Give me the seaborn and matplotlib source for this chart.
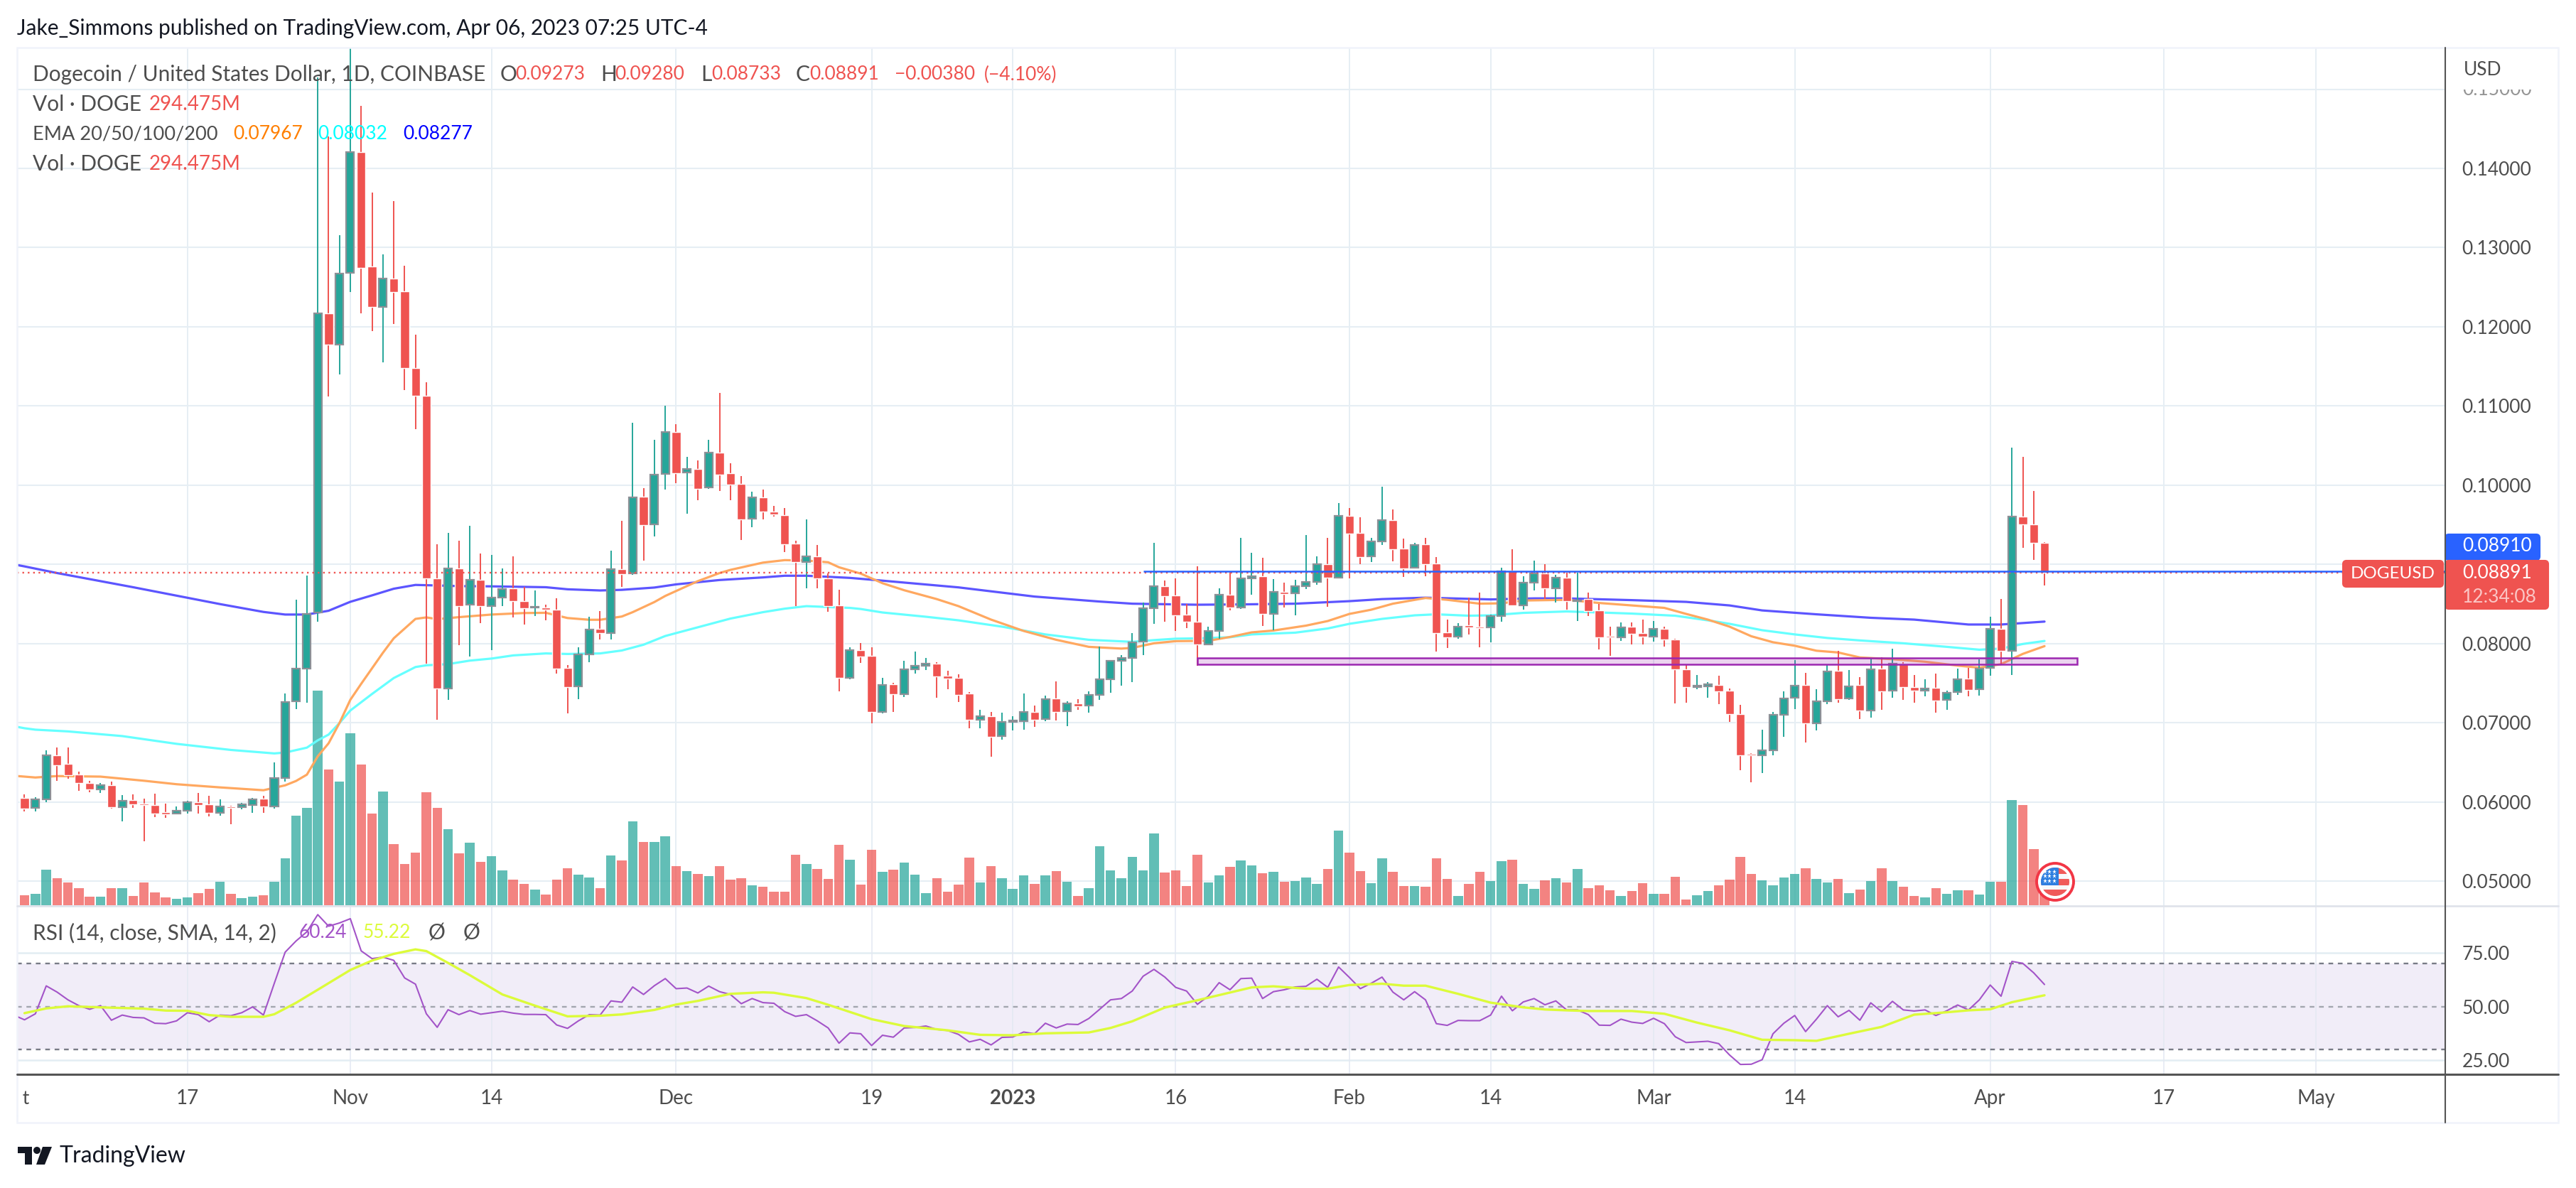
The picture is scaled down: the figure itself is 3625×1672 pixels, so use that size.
import pandas as pd
import seaborn as sns
import matplotlib.pyplot as plt
from matplotlib.patches import Rectangle, Circle, Polygon, FancyBboxPatch
from matplotlib.lines import Line2D

W, H = 3625, 1672

# daily candles from 2022-10-02, open high low close in 1e-5 USD, volume in millions
candles = [
    (6051, 6095, 5883, 5919, 135), (5923, 6059, 5883, 6029, 155), (6029, 6652, 5993, 6586, 494),
    (6586, 6689, 6267, 6465, 375), (6480, 6689, 6289, 6341, 314), (6344, 6381, 6136, 6234, 237),
    (6238, 6264, 6125, 6161, 114), (6161, 6238, 6117, 6209, 114), (6212, 6253, 5919, 5934, 237),
    (5930, 6084, 5755, 6018, 237), (6022, 6095, 5927, 5971, 126), (5975, 6040, 5505, 5960, 314),
    (5960, 6103, 5810, 5857, 175), (5872, 5978, 5802, 5846, 106), (5857, 5941, 5846, 5886, 86),
    (5886, 6011, 5857, 5993, 106), (5997, 6114, 5853, 5960, 163), (5971, 6077, 5820, 5865, 224),
    (5865, 6033, 5828, 5938, 326), (5945, 5952, 5714, 5927, 155), (5934, 5989, 5908, 5967, 94),
    (5963, 6051, 5865, 6029, 114), (6040, 6081, 5861, 5938, 135), (5938, 6498, 5919, 6297, 326),
    (6300, 7370, 6256, 7264, 653), (7268, 8553, 7172, 7681, 1253), (7681, 8861, 7253, 8377, 1363),
    (8396, 15150, 8271, 12173, 3015), (12173, 14402, 11117, 11771, 1905), (11771, 13160, 11395, 12674, 1734),
    (12677, 16000, 12443, 14208, 2415), (14208, 14793, 12173, 12747, 1975), (12758, 13697, 11950, 12253, 1285),
    (12250, 12915, 11548, 12608, 1595), (12612, 13587, 12038, 12443, 853), (12451, 12772, 11201, 11475, 575),
    (11479, 11903, 10711, 11128, 734), (11128, 11303, 7747, 8824, 1583), (8824, 9253, 7040, 7436, 1363),
    (7436, 9399, 7289, 8949, 1065), (8949, 9300, 7978, 8476, 726), (8491, 9487, 7832, 8802, 873),
    (8806, 9136, 8260, 8476, 604), (8476, 9121, 7912, 8579, 685), (8579, 8949, 8469, 8685, 486),
    (8696, 9103, 8333, 8538, 355), (8535, 8718, 8242, 8447, 294), (8451, 8670, 8348, 8465, 216),
    (8451, 8487, 8297, 8432, 143), (8432, 8571, 7619, 7685, 355), (7689, 7729, 7121, 7451, 514),
    (7458, 7952, 7300, 7861, 424), (7861, 8337, 7766, 8179, 384), (8187, 8410, 8048, 8128, 237),
    (8132, 9172, 8048, 8941, 694), (8941, 9549, 8711, 8879, 624), (8883, 10784, 8870, 9850, 1175),
    (9853, 9963, 9051, 9498, 885), (9502, 10576, 9355, 10136, 885), (10139, 11000, 9941, 10668, 963),
    (10675, 10774, 10022, 10154, 543), (10158, 10359, 9641, 10209, 473), (10201, 10311, 9813, 9956, 437),
    (9974, 10576, 9952, 10412, 404), (10408, 11168, 9930, 10136, 543), (10150, 10278, 9806, 10011, 355),
    (10018, 10117, 9304, 9571, 375), (9575, 9919, 9473, 9842, 273), (9842, 9945, 9564, 9663, 253),
    (9667, 9736, 9604, 9626, 184), (9625, 9714, 9156, 9258, 189), (9263, 9299, 8472, 9026, 701),
    (9026, 9571, 8700, 9097, 572), (9102, 9245, 8700, 8820, 502), (8825, 8887, 8400, 8472, 368),
    (8481, 8682, 7395, 7569, 841), (7569, 7949, 7547, 7913, 632), (7918, 8007, 7757, 7837, 284),
    (7846, 7954, 6989, 7132, 771), (7132, 7565, 7114, 7480, 463), (7484, 7502, 7136, 7359, 493),
    (7364, 7784, 7328, 7677, 592), (7677, 7900, 7623, 7717, 423), (7717, 7820, 7663, 7744, 169),
    (7748, 7766, 7315, 7587, 378), (7592, 7654, 7426, 7560, 189), (7565, 7610, 7257, 7350, 284),
    (7368, 7386, 6926, 7033, 662), (7033, 7163, 6926, 7078, 318), (7078, 7132, 6573, 6819, 542),
    (6828, 7127, 6788, 7011, 378), (7006, 7082, 6899, 7024, 229), (7015, 7368, 6908, 7132, 413),
    (7136, 7221, 6944, 7038, 299), (7047, 7346, 7015, 7301, 413), (7306, 7520, 7029, 7140, 473),
    (7145, 7266, 6953, 7239, 328), (7243, 7297, 7163, 7207, 129), (7216, 7395, 7123, 7355, 239),
    (7355, 7963, 7292, 7552, 821), (7552, 7793, 7377, 7779, 483), (7779, 7855, 7471, 7815, 378),
    (7815, 8128, 7511, 8016, 672), (8021, 8517, 7855, 8450, 483), (8445, 9272, 8244, 8722, 1010),
    (8727, 8798, 8275, 8602, 453), (8611, 8825, 8155, 8356, 483), (8365, 8499, 8195, 8275, 269),
    (8275, 8977, 7721, 7989, 701), (7989, 8213, 7980, 8155, 318), (8155, 8700, 8061, 8615, 413),
    (8619, 8910, 8418, 8454, 532), (8459, 9334, 8441, 8820, 622), (8820, 9147, 8619, 8847, 552),
    (8852, 9084, 8222, 8374, 443), (8378, 8816, 8168, 8651, 463), (8655, 8771, 8454, 8628, 328),
    (8633, 8803, 8356, 8722, 338), (8722, 9370, 8686, 8776, 388), (8780, 9102, 8740, 8999, 299),
    (9004, 9334, 8463, 8829, 502), (8834, 9777, 8829, 9611, 1050), (9616, 9714, 8825, 9388, 731),
    (9397, 9598, 9004, 9093, 473), (9102, 9334, 9030, 9285, 308), (9285, 9982, 9245, 9558, 652),
    (9562, 9696, 9039, 9191, 463), (9200, 9325, 8843, 8950, 269), (8954, 9272, 8946, 9249, 269),
    (9254, 9334, 8852, 9004, 259), (9013, 9093, 7896, 8132, 652), (8141, 8302, 7945, 8079, 368),
    (8083, 8257, 8061, 8217, 129), (8231, 8584, 8114, 8208, 299), (8217, 8646, 7954, 8199, 463),
    (8208, 8369, 8016, 8351, 338), (8351, 8959, 8271, 8914, 612), (8923, 9191, 8472, 8485, 632),
    (8481, 8852, 8427, 8767, 299), (8767, 9048, 8673, 8883, 229), (8887, 9004, 8561, 8700, 348),
    (8695, 8865, 8517, 8829, 378), (8834, 8896, 8427, 8534, 318), (8534, 8896, 8284, 8548, 502),
    (8561, 8646, 8347, 8409, 239), (8418, 8499, 7927, 8079, 279), (8097, 8213, 7846, 8074, 209),
    (8079, 8262, 8034, 8208, 129), (8213, 8270, 7989, 8123, 199), (8132, 8302, 7989, 8083, 308),
    (8083, 8284, 8025, 8182, 159), (8182, 8213, 7958, 8052, 159), (8052, 8061, 7243, 7672, 398),
    (7677, 7735, 7252, 7453, 80), (7453, 7601, 7426, 7471, 134), (7462, 7511, 7319, 7485, 199),
    (7476, 7592, 7230, 7400, 274), (7404, 7431, 7006, 7105, 358), (7109, 7225, 6399, 6586, 672),
    (6604, 6618, 6247, 6586, 433), (6586, 6913, 6363, 6653, 348), (6653, 7140, 6586, 7096, 274),
    (7100, 7395, 6819, 7310, 388), (7315, 7793, 7176, 7471, 433), (7476, 7632, 6747, 6989, 512),
    (6989, 7422, 6899, 7266, 368), (7270, 7735, 7230, 7650, 318), (7654, 7909, 7252, 7297, 368),
    (7310, 7668, 7288, 7458, 169), (7476, 7574, 7042, 7158, 219), (7154, 7811, 7060, 7677, 338),
    (7681, 7824, 7163, 7400, 512), (7404, 7936, 7319, 7744, 338), (7748, 7766, 7292, 7453, 254),
    (7453, 7601, 7252, 7404, 124), (7409, 7547, 7333, 7435, 109), (7440, 7623, 7127, 7279, 239),
    (7284, 7409, 7163, 7382, 159), (7386, 7681, 7355, 7552, 209), (7556, 7690, 7333, 7417, 209),
    (7422, 7802, 7342, 7686, 149), (7690, 8338, 7592, 8182, 328), (8186, 8561, 7726, 7905, 328),
    (7909, 10478, 7601, 9602, 1473), (9602, 10357, 9209, 9509, 1403), (9509, 9924, 9057, 9267, 781),
    (9273, 9280, 8733, 8891, 294.475),
]
df = pd.DataFrame(candles, columns=["open", "high", "low", "close", "vol"])
df[["open", "high", "low", "close"]] /= 1e5
df["i"] = df.index
df["date"] = pd.date_range("2022-10-02", periods=len(df))
df["dir"] = ["up" if c >= o else "down" for o, c in zip(df["open"], df["close"])]

# EMA readings, day number and price (1e-5 USD)
ema_blue = [(-1, 9000), (0, 8974), (3, 8890), (10, 8711), (18, 8498), (22, 8399), (24, 8366), (26, 8366),
            (28, 8414), (30, 8527), (32, 8608), (34, 8692), (36, 8740), (38, 8733), (40, 8725), (43, 8722),
            (48, 8711), (50, 8685), (53, 8670), (55, 8678), (58, 8707), (60, 8747), (64, 8802), (68, 8835),
            (70, 8856), (72, 8856), (76, 8829), (79, 8794), (86, 8709), (93, 8593), (99, 8530), (102, 8503),
            (108, 8490), (112, 8494), (117, 8503), (122, 8535), (125, 8561), (129, 8579), (135, 8557),
            (139, 8570), (142, 8570), (148, 8548), (153, 8526), (157, 8481), (160, 8418), (165, 8369),
            (170, 8325), (174, 8302), (179, 8240), (182, 8240), (186, 8277)]
ema_cyan = [(-1, 6956), (0, 6930), (1, 6912), (4, 6890), (9, 6831), (14, 6733), (19, 6656), (23, 6612),
            (24, 6623), (26, 6685), (27, 6777), (28, 6850), (29, 6996), (30, 7154), (32, 7363), (34, 7564),
            (36, 7703), (37, 7725), (39, 7740), (41, 7784), (43, 7810), (45, 7850), (48, 7875), (50, 7868),
            (53, 7875), (55, 7912), (57, 7985), (59, 8095), (62, 8205), (65, 8315), (68, 8396), (70, 8440),
            (72, 8472), (76, 8450), (77, 8436), (79, 8392), (83, 8338), (86, 8293), (90, 8213), (94, 8115),
            (98, 8047), (102, 8021), (104, 8043), (106, 8061), (108, 8065), (111, 8079), (113, 8115),
            (117, 8137), (120, 8190), (122, 8249), (125, 8311), (128, 8356), (130, 8369), (133, 8351),
            (135, 8356), (138, 8387), (142, 8405), (145, 8392), (148, 8378), (152, 8351), (155, 8293),
            (157, 8249), (160, 8168), (163, 8115), (166, 8070), (169, 8039), (173, 8003), (177, 7958),
            (180, 7922), (182, 7936), (184, 7994), (186, 8032)]
ema_orange = [(-1, 6330), (0, 6319), (1, 6308), (3, 6326), (7, 6319), (11, 6267), (14, 6223), (18, 6183),
              (22, 6147), (24, 6209), (25, 6264), (26, 6344), (27, 6575), (28, 6740), (29, 6996), (30, 7289),
              (31, 7491), (33, 7883), (34, 8066), (36, 8311), (37, 8330), (38, 8308), (40, 8333), (43, 8366),
              (46, 8385), (48, 8388), (50, 8322), (52, 8300), (53, 8300), (55, 8341), (56, 8396), (58, 8524),
              (59, 8601), (62, 8788), (64, 8890), (65, 8930), (68, 9022), (70, 9053), (72, 9048), (74, 9026),
              (75, 8963), (77, 8883), (79, 8762), (81, 8673), (84, 8561), (86, 8472), (89, 8302), (92, 8159),
              (95, 8047), (98, 7958), (101, 7936), (102, 7945), (104, 8003), (106, 8030), (109, 8034),
              (111, 8083), (113, 8141), (115, 8164), (118, 8226), (120, 8284), (122, 8374), (124, 8427),
              (126, 8503), (129, 8575), (131, 8552), (134, 8503), (136, 8508), (138, 8543), (142, 8552),
              (145, 8512), (148, 8481), (151, 8450), (153, 8374), (155, 8302), (157, 8213), (159, 8092),
              (161, 8016), (163, 7972), (165, 7909), (167, 7887), (169, 7824), (172, 7802), (175, 7770),
              (178, 7721), (180, 7695), (182, 7739), (184, 7869), (186, 7967)]

# RSI for day -1 onward
rsi_vals = [46.0, 43.8, 46.6, 59.6, 56.7, 53.1, 50.4, 48.7, 50.4, 43.6, 46.0, 44.9, 44.7, 42.2, 42.0, 43.3, 47.1,
            46.2, 42.9, 46.0, 45.7, 47.1, 49.8, 46.0, 60.8, 75.3, 80.5, 84.8, 92.8, 87.4, 88.9, 90.9, 75.9, 72.3,
            73.0, 71.5, 63.3, 60.4, 46.6, 40.3, 48.5, 46.2, 48.1, 46.4, 47.1, 47.8, 46.9, 46.3, 46.3, 46.2, 41.4,
            39.8, 43.3, 46.2, 46.0, 52.6, 52.0, 59.1, 55.6, 59.7, 63.0, 58.3, 58.6, 56.3, 59.5, 56.9, 55.6, 51.3,
            53.7, 51.8, 51.5, 47.6, 45.4, 46.2, 43.3, 40.0, 32.9, 37.7, 37.3, 31.8, 36.6, 35.7, 40.0, 40.2, 40.9,
            39.3, 38.8, 37.0, 33.5, 34.7, 32.1, 35.6, 35.8, 38.1, 37.3, 42.2, 40.0, 41.8, 41.6, 44.4, 48.7, 53.1,
            53.7, 57.2, 64.1, 67.3, 63.7, 58.9, 57.2, 51.0, 54.8, 61.1, 57.8, 63.0, 63.2, 53.7, 56.9, 57.8, 59.1,
            59.4, 62.7, 58.9, 68.4, 63.5, 58.3, 60.8, 63.7, 56.7, 53.1, 56.9, 53.1, 42.0, 41.2, 43.5, 43.4, 43.4,
            46.0, 54.8, 48.0, 52.1, 53.7, 50.8, 52.6, 48.4, 48.4, 46.2, 41.3, 41.2, 44.1, 42.7, 42.1, 44.5, 42.0,
            35.9, 33.2, 33.5, 33.8, 32.7, 27.4, 23.0, 23.1, 25.2, 37.3, 42.2, 45.8, 38.3, 44.1, 50.4, 45.2, 48.2,
            43.6, 51.7, 47.6, 52.4, 48.4, 47.9, 48.4, 45.8, 48.0, 50.7, 48.4, 53.1, 60.0, 54.8, 71.0, 70.1, 65.7,
            60.24]
rsi = pd.DataFrame({"i": range(-1, len(rsi_vals) - 1), "rsi": rsi_vals})

rsi_ma = pd.DataFrame(
    [(0, 46.9), (2, 49.1), (4, 50.1), (7, 49.6), (11, 49.0), (13, 48.1), (15, 48.0), (17, 46.0), (19, 45.2), (22, 45.2),
     (23, 46.4), (25, 51.7), (27, 57.8), (30, 67.0), (32, 71.4), (34, 74.5), (36, 76.6), (37, 75.8), (39, 70.3),
     (41, 64.6), (44, 55.6), (47, 50.4), (50, 45.4), (53, 45.7), (55, 46.3), (58, 48.4), (60, 50.9), (62, 52.6),
     (65, 55.9), (68, 56.6), (69, 56.4), (72, 53.9), (74, 50.8), (78, 44.1), (81, 40.9), (85, 38.9), (88, 36.8),
     (91, 36.6), (94, 37.5), (98, 37.9), (100, 40.0), (102, 43.1), (105, 49.5), (108, 52.9), (110, 55.3), (113, 58.9),
     (115, 59.4), (118, 58.3), (120, 58.3), (122, 60.0), (125, 60.6), (127, 59.7), (129, 59.7), (132, 55.9), (135, 51.8),
     (138, 49.6), (140, 48.6), (142, 48.2), (144, 47.9), (148, 47.9), (151, 46.6), (154, 42.5), (157, 38.9), (160, 34.5),
     (163, 34.3), (165, 34.0), (168, 37.3), (171, 40.5), (174, 46.2), (177, 47.3), (179, 48.2), (181, 48.7), (183, 52.0),
     (186, 55.22)], columns=["i", "ma"])

sns.set_theme(style="white")
plt.rcParams["font.family"] = ["Lato", "DejaVu Sans"]
TXT = "#4d4d4d"
GRID = "#e6eef4"
GREEN, RED = "#26a69a", "#ef5350"
NUM = 19


def rect(l, t, r, b):
    return [l / W, 1 - b / H, (r - l) / W, (b - t) / H]


fig = plt.figure(figsize=(W / 100, H / 100), dpi=100)
xlim = (-0.687, 222.9)
ticks = [15, 30, 43, 60, 78, 91, 106, 122, 135, 150, 163, 181, 197, 211]
tick_labels = ["17", "Nov", "14", "Dec", "19", "2023", "16", "Feb", "14", "Mar", "14", "Apr", "17", "May"]

# grid layer, volume layer, candle layer
bg = fig.add_axes(rect(24, 67, 3441, 1275), zorder=0)
axv = fig.add_axes(rect(24, 67, 3441, 1275), zorder=1)
ax = fig.add_axes(rect(24, 67, 3441, 1275), zorder=2)
ax_rsi = fig.add_axes(rect(24, 1275, 3441, 1512), zorder=2)

ylim = (0.04686, 0.15526)
bg.set(xlim=xlim, ylim=ylim, xticks=[], yticks=[])
for p in range(5, 16):
    bg.axhline(p / 100, color=GRID, lw=1.5)
for t in ticks:
    bg.axvline(t, color=GRID, lw=1.4)
sns.despine(ax=bg, left=True, bottom=True)

sns.barplot(data=df, x="i", y="vol", hue="dir", hue_order=["up", "down"], palette={"up": GREEN, "down": RED},
            native_scale=True, dodge=False, width=0.88, saturation=1, alpha=0.72, linewidth=0, legend=False, ax=axv)
axv.set(xlim=xlim, ylim=(-15, 12065), xticks=[], yticks=[], xlabel="", ylabel="")
axv.patch.set_visible(False)
sns.despine(ax=axv, left=True, bottom=True)

for pts, col in [(ema_blue, "#5c55ff"), (ema_cyan, "#66ffff"), (ema_orange, "#ffa860")]:
    e = pd.DataFrame(pts, columns=["i", "p"])
    e["p"] /= 1e5
    sns.lineplot(data=e, x="i", y="p", color=col, lw=2.3, estimator=None, ax=ax, zorder=2)

colors = df["dir"].map({"up": GREEN, "down": RED})
ax.vlines(df["i"], df["low"], df["high"], colors=colors, lw=1.4, zorder=3)
up = df[df["dir"] == "up"]
down = df[df["dir"] == "down"]
ax.bar(down["i"], down["open"] - down["close"], bottom=down["close"], width=0.8, color=RED, zorder=3.2)
ax.bar(up["i"], up["close"] - up["open"], bottom=up["open"], width=0.72, color=GREEN,
       edgecolor="#8c9096", linewidth=1.6, zorder=3.2)

ax.axhline(0.08891, color=RED, lw=1.7, ls=(0, (1, 2.2)), zorder=3.5)
ax.hlines(0.0891, 103, xlim[1], color="#2962ff", lw=1.8, zorder=4)
ax.add_patch(Rectangle((108, 0.07739), 81, 0.00076, fc=(0.61, 0.15, 0.69, 0.2), ec="#9c27b0", lw=1.8, zorder=4))

ax.set(xlim=xlim, ylim=ylim, xlabel="", ylabel="", xticks=[])
ax.patch.set_visible(False)
ax.yaxis.tick_right()
ax.set_yticks([p / 100 for p in range(5, 15)], [f"{p / 100:.5f}" for p in range(5, 15)])
ax.tick_params(axis="y", length=0, pad=17, labelsize=NUM, labelcolor=TXT)
sns.despine(ax=ax, left=True, bottom=True, right=True)

# RSI pane
ax_rsi.set(xlim=xlim, ylim=(18.4, 96.85))
for p in (75, 25):
    ax_rsi.axhline(p, color="#e3edf3", lw=1.8)
for t in ticks:
    ax_rsi.axvline(t, color="#e3e8f2", lw=1.1)
ax_rsi.axhspan(30, 70, color="#7e57c2", alpha=0.1, lw=0)
ax_rsi.axhline(70, color="#787b86", lw=1.7, ls=(0, (2.8, 2.8)))
ax_rsi.axhline(50, color="#a3a6af", lw=1.7, ls=(0, (2.8, 2.8)))
ax_rsi.axhline(30, color="#787b86", lw=1.7, ls=(0, (2.8, 2.8)))
sns.lineplot(data=rsi, x="i", y="rsi", color="#a354c8", lw=1.5, estimator=None, ax=ax_rsi)
sns.lineplot(data=rsi_ma, x="i", y="ma", color="#dcfb3a", lw=2.4, estimator=None, ax=ax_rsi)
ax_rsi.set(xlim=xlim, ylim=(18.4, 96.85), xlabel="", ylabel="")
ax_rsi.patch.set_visible(False)
ax_rsi.yaxis.tick_right()
ax_rsi.set_yticks([25, 50, 75], ["25.00", "50.00", "75.00"])
ax_rsi.tick_params(axis="y", length=0, pad=17, labelsize=NUM, labelcolor=TXT)
ax_rsi.set_xticks(ticks, tick_labels)
ax_rsi.tick_params(axis="x", length=0, pad=15, labelsize=NUM + 1, labelcolor=TXT)
ax_rsi.get_xticklabels()[5].set_fontweight("bold")
sns.despine(ax=ax_rsi, left=True, bottom=True, right=True)

# overlay in picture pixels for the header, tags and logo
ov = fig.add_axes([0, 0, 1, 1], zorder=5)
ov.set(xlim=(0, W), ylim=(H, 0))
ov.axis("off")


def label(x, y, s, color=TXT, size=21.5, **kw):
    ov.text(x, y, s, color=color, fontsize=size, va="center", **kw)


ov.add_patch(Rectangle((24, 67), 3576, 1513, fill=False, ec="#f0f3fa", lw=1.8))
ov.add_line(Line2D([24, 3600], [1275, 1275], color="#e0e3eb", lw=2))
ov.add_line(Line2D([24, 3600], [1512, 1512], color="#555555", lw=2.2))
ov.add_line(Line2D([3441, 3441], [67, 1580], color="#555555", lw=1.5))

label(24, 40, "Jake_Simmons published on TradingView.com, Apr 06, 2023 07:25 UTC-4", color="#131722")
label(46, 105, "Dogecoin / United States Dollar, 1D, COINBASE")
for x, s in [(704, "O"), (845, "H"), (986, "L"), (1120, "C")]:
    label(x, 105, s)
for x, s in [(725, "0.09273"), (865, "0.09280"), (1001, "0.08733"), (1139, "0.08891"),
             (1259, "\u22120.00380"), (1385, "(\u22124.10%)")]:
    label(x, 105, s, color=RED, size=NUM)
label(46, 147, "Vol \u00b7 DOGE")
label(210, 147, "294.475M", color=RED, size=20)
label(46, 189, "EMA 20/50/100/200", size=19.5)
label(328, 189, "0.07967", color="#ff7f00", size=NUM)
label(447, 189, "0.08032", color="#00ffff", size=NUM)
label(567, 189, "0.08277", color="#0000ff", size=NUM)
label(46, 231, "Vol \u00b7 DOGE")
label(210, 231, "294.475M", color=RED, size=20)

label(46, 1313, "RSI (14, close, SMA, 14, 2)")
label(421, 1313, "60.24", color="#a354c8", size=NUM)
label(511, 1313, "55.22", color="#dcfb3a", size=NUM)
label(603, 1313, "\u00d8")
label(652, 1313, "\u00d8")

# price label fading out under the currency
label(3465, 126, "0.15000", alpha=0.6, size=NUM)
ov.add_patch(Rectangle((3450, 84), 130, 42, fc="white", ec="none", zorder=4))
ov.text(3467, 98, "USD", color=TXT, fontsize=NUM, va="center", zorder=5)

# last-price tags
ov.add_patch(FancyBboxPatch((3441, 752), 133, 36, boxstyle="round,pad=0,rounding_size=5", fc="#2962ff", ec="#2962ff", lw=1.5))
label(3465, 768, "0.08910", color="white", size=NUM)
ov.add_patch(FancyBboxPatch((3441, 789), 145, 68, boxstyle="round,pad=0,rounding_size=5", fc=RED, ec=RED, lw=1.5))
label(3465, 806, "0.08891", color="white", size=NUM)
label(3465, 840, "12:34:08", color="#fbc6c5", size=NUM)
ov.add_patch(FancyBboxPatch((3297, 789), 141, 37, boxstyle="round,pad=0,rounding_size=5", fc=RED, ec=RED, lw=1.5))
label(3367, 807, "DOGEUSD", color="white", ha="center", size=17.5)

# time axis label cut at the frame
label(42, 1547, "Oct", ha="right", size=NUM)
ov.add_patch(Rectangle((0, 1525), 32, 45, fc="white", ec="none", zorder=4))
ov.add_line(Line2D([24, 24], [1525, 1570], color="#f0f3fa", lw=1.8, zorder=5))

# earnings flag
ov.add_patch(Circle((2892, 1241), 26, fc="white", ec="#f23645", lw=2.8))
clip = Circle((2892, 1241), 20, transform=ov.transData)
for top, bottom, col in [(1220, 1262, "#f7f8fb"), (1220, 1230, "#f05a5a"), (1237, 1246, "#f05a5a"), (1252, 1262, "#f05a5a")]:
    ov.add_patch(Rectangle((2870, top), 44, bottom - top, fc=col, ec="none", clip_path=clip))
ov.add_patch(Rectangle((2870, 1220), 27, 26, fc="#2f7fe0", ec="none", clip_path=clip))
ov.plot([2878, 2884, 2891] * 3, [1227] * 3 + [1233] * 3 + [1240] * 3, ls="", marker="*", ms=5, color="white", mew=0)

# logo
ov.add_patch(Polygon([(25, 1614), (45, 1614), (45, 1639), (35, 1639), (35, 1623), (25, 1623)], fc="#131722", ec="none"))
ov.add_patch(Circle((52, 1619), 5, fc="#131722", ec="none"))
ov.add_patch(Polygon([(60, 1614), (73, 1614), (63, 1639), (51, 1639)], fc="#131722", ec="none"))
label(83, 1627, "TradingView", color="#131722", size=23)
ov.set(xlim=(0, W), ylim=(H, 0))

fig.savefig("out.png", dpi=100, facecolor="white")
